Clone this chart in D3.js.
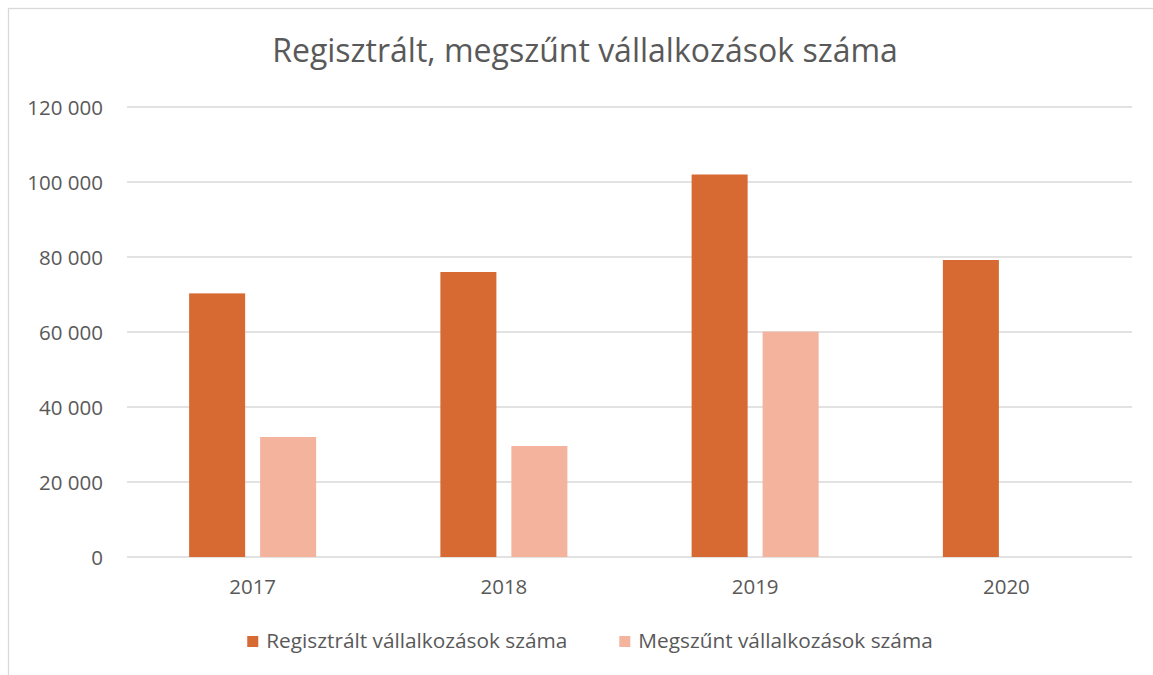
<!DOCTYPE html>
<html>
<head>
<meta charset="utf-8">
<script src="https://cdn.jsdelivr.net/npm/d3@7"></script>
<style>
  body { margin: 0; background: #fff; }
  svg { display: block; font-family: "Open Sans", sans-serif; }
</style>
</head>
<body>
<svg id="chart"></svg>
<script>
var width = 1153,
    height = 675;

// data
var years = ["2017", "2018", "2019", "2020"];
var seriesNames = ["Regisztrált vállalkozások száma", "Megszűnt vállalkozások száma"];
var registered = [70300, 76000, 102000, 79200];
var ceased = [32000, 29600, 60100, null];
var yTicks = [0, 20000, 40000, 60000, 80000, 100000, 120000];
var titleText = "Regisztrált, megszűnt vállalkozások száma";

var colors = ["#D76A33", "#F3B39C"];
var textColor = "#595959";
var gridColor = "#D9D9D9";

var hu = d3.formatLocale({decimal: ",", thousands: "\u00a0", grouping: [3], currency: ["", ""]});
var fmt = hu.format(",d");

var margin = {left: 127, right: 1132, top: 107, bottom: 557};

var svg = d3.select("#chart").attr("width", width).attr("height", height);

// chart frame
svg.append("rect")
    .attr("x", 8.5).attr("y", 8.5)
    .attr("width", width + 20).attr("height", height + 20)
    .attr("fill", "#fff")
    .attr("stroke", gridColor)
    .attr("stroke-width", 1.3);

var y = d3.scaleLinear().domain([0, 120000]).range([margin.bottom, margin.top]);

var x0 = d3.scaleBand().domain(years)
    .range([margin.left, margin.right])
    .paddingInner(0.4945).paddingOuter(0.4945 / 2);

var x1 = d3.scaleBand().domain(seriesNames)
    .range([0, x0.bandwidth()])
    .paddingInner(0.211);

// gridlines
svg.append("g").selectAll("line").data(yTicks)
    .enter()
    .append("line")
        .attr("x1", margin.left).attr("x2", margin.right)
        .attr("y1", function(d) { return y(d); })
        .attr("y2", function(d) { return y(d); })
        .style("stroke", gridColor)
        .style("stroke-width", 1.5);

// y axis labels
var yAxis = svg.append("g")
    .attr("transform", "translate(" + margin.left + ",0)")
    .call(d3.axisLeft(y).tickValues(yTicks).tickSize(0).tickPadding(24).tickFormat(fmt));
yAxis.select(".domain").remove();
yAxis.selectAll("text")
    .attr("dy", "0.37em")
    .style("font-size", "20.5px")
    .style("font-family", "'Open Sans', sans-serif")
    .style("fill", textColor);

// x axis labels
var xAxis = svg.append("g")
    .attr("transform", "translate(0," + margin.bottom + ")")
    .call(d3.axisBottom(x0).tickSize(0).tickPadding(22));
xAxis.select(".domain").remove();
xAxis.selectAll("text")
    .style("font-size", "20.5px")
    .style("font-family", "'Open Sans', sans-serif")
    .style("fill", textColor);

// bars
var barData = [];
years.forEach(function(yr, i) {
    barData.push({year: yr, series: seriesNames[0], v: registered[i], c: colors[0]});
    if (ceased[i] != null) barData.push({year: yr, series: seriesNames[1], v: ceased[i], c: colors[1]});
});

svg.append("g").selectAll("rect").data(barData)
    .enter()
    .append("rect")
        .attr("x", function(d) { return x0(d.year) + x1(d.series); })
        .attr("y", function(d) { return y(d.v); })
        .attr("width", x1.bandwidth())
        .attr("height", function(d) { return y(0) - y(d.v); })
        .style("fill", function(d) { return d.c; });

// title
svg.append("text")
    .attr("x", 585).attr("y", 62)
    .attr("text-anchor", "middle")
    .style("font-size", "32px")
    .style("fill", textColor)
    .text(titleText);

// legend
var legend = svg.append("g");
var items = legend.selectAll("g").data(seriesNames)
    .enter()
    .append("g");
items.append("rect")
    .attr("width", 11).attr("height", 11)
    .attr("y", 636)
    .style("fill", function(d, i) { return colors[i]; });
items.append("text")
    .attr("x", 19).attr("y", 648)
    .style("font-size", "20.8px")
    .style("fill", textColor)
    .text(function(d) { return d; });

var xpos = 0, gap = 52;
items.each(function() {
    var w = this.getBBox().width;
    d3.select(this).attr("transform", "translate(" + xpos + ",0)");
    xpos += w + gap;
});
var legendWidth = xpos - gap;
legend.attr("transform", "translate(" + (590 - legendWidth / 2) + ",0)");
</script>
</body>
</html>
